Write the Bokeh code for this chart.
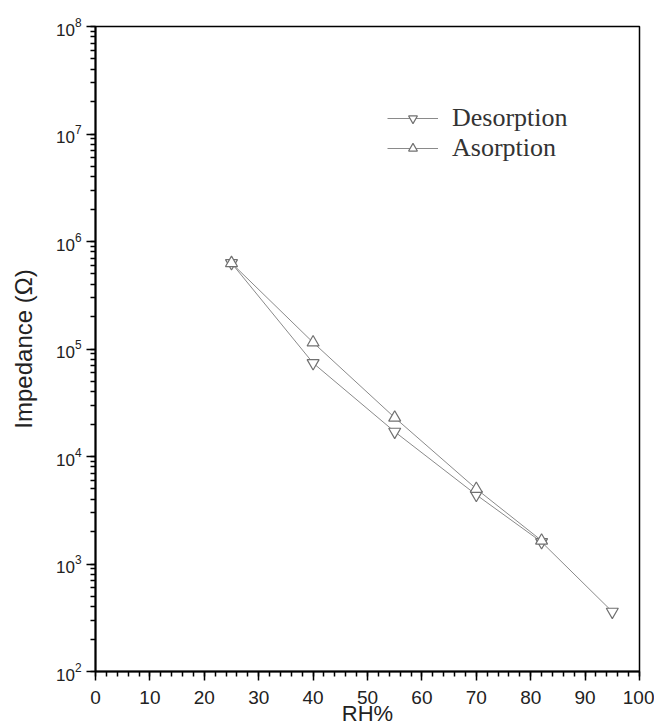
from bokeh.plotting import figure
from bokeh.models import Legend, LegendItem, SingleIntervalTicker, LogTicker
from bokeh.embed import file_html
from bokeh.resources import INLINE

# data
rh_des = [25, 40, 55, 70, 82, 95]
z_des = [6.3e5, 7.4e4, 1.7e4, 4.4e3, 1.6e3, 360]
rh_ads = [25, 40, 55, 70, 82]
z_ads = [6.3e5, 1.15e5, 2.3e4, 5.0e3, 1.65e3]
series_names = ["Desorption", "Asorption"]
x_title = "RH%"
y_title = "Impedance (Ω)"

p = figure(width=654, height=728, y_axis_type="log",
           x_range=(0, 100), y_range=(1e2, 1e8),
           output_backend="svg", toolbar_location=None,
           min_border_left=95, min_border_right=15,
           min_border_top=26, min_border_bottom=55)
p.background_fill_color = "white"
p.border_fill_color = "white"
p.outline_line_color = "black"
p.outline_line_width = 1.5
p.grid.visible = False

line_col = "#8a8a8a"
mk_col = "#707070"

l1 = p.line(rh_des, z_des, line_color=line_col, line_width=1)
s1 = p.scatter(rh_des, z_des, marker="inverted_triangle", size=12,
               line_color=mk_col, fill_color="white", line_width=1.2)
l2 = p.line(rh_ads, z_ads, line_color=line_col, line_width=1)
s2 = p.scatter(rh_ads, z_ads, marker="triangle", size=12,
               line_color=mk_col, fill_color="white", line_width=1.2)

p.xaxis.ticker = SingleIntervalTicker(interval=10, num_minor_ticks=5)
p.yaxis.ticker = LogTicker(desired_num_ticks=7, num_minor_ticks=10)

for ax in (p.xaxis[0], p.yaxis[0]):
    ax.axis_line_width = 2
    ax.major_tick_line_width = 1.5
    ax.minor_tick_line_width = 1.5
    ax.major_tick_out = 9
    ax.major_tick_in = 0
    ax.minor_tick_out = 5
    ax.minor_tick_in = 0
    ax.major_label_text_font = "Liberation Sans"
    ax.major_label_text_color = "#222222"
    ax.axis_label_text_font = "Liberation Sans"
    ax.axis_label_text_font_style = "normal"
    ax.axis_label_text_color = "#222222"

p.xaxis.major_label_text_font_size = "19px"
p.yaxis.major_label_text_font_size = "17px"
p.xaxis.major_label_standoff = 10
p.xaxis.axis_label = x_title
p.xaxis.axis_label_text_font_size = "22px"
p.xaxis.axis_label_standoff = -6
p.yaxis.axis_label = y_title
p.yaxis.axis_label_text_font_size = "24px"
p.yaxis.major_label_standoff = 5
p.yaxis.axis_label_standoff = 16

legend = Legend(items=[LegendItem(label=series_names[0], renderers=[l1, s1]),
                       LegendItem(label=series_names[1], renderers=[l2, s2])],
                location=(292, 508))
legend.border_line_color = None
legend.background_fill_alpha = 0
legend.padding = 0
legend.margin = 0
legend.spacing = 0
legend.glyph_width = 51
legend.glyph_height = 22
legend.label_height = 22
legend.label_standoff = 14
legend.label_text_font = "Liberation Serif"
legend.label_text_font_size = "26px"
legend.label_text_color = "#333333"
p.add_layout(legend)

open("out.html", "w").write(file_html(p, INLINE))
